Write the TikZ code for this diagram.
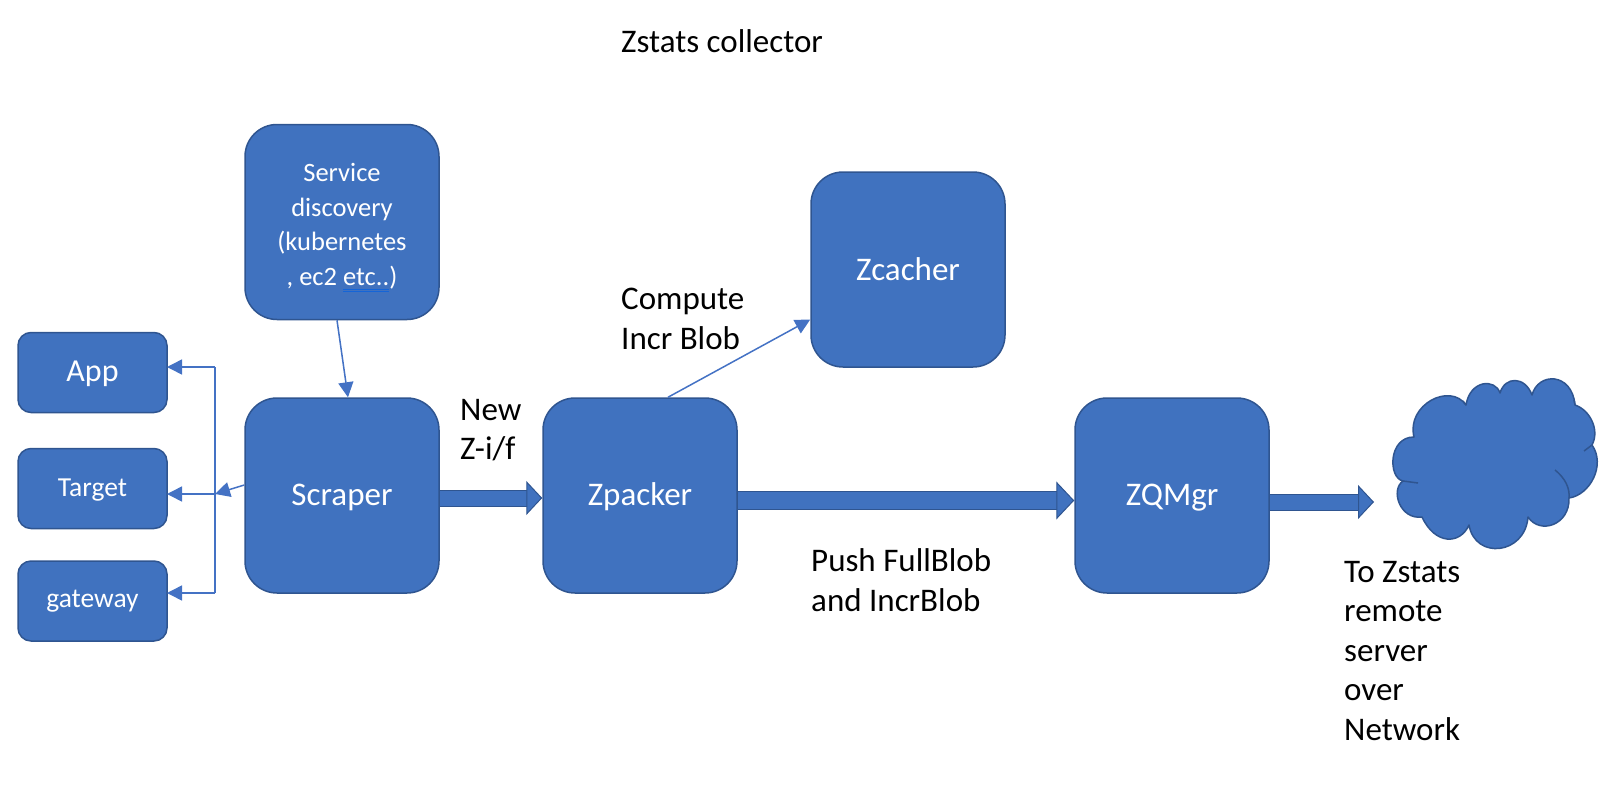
\documentclass[tikz,border=0pt]{standalone}
\usepackage{fontspec}
\setmainfont{Carlito}
\usetikzlibrary{arrows.meta}
\definecolor{boxfill}{HTML}{4072BF}
\definecolor{boxline}{HTML}{2F5590}
\definecolor{wireblue}{HTML}{4472C4}
\definecolor{spellblue}{HTML}{1565D8}
\tikzstyle{bigbox}=[draw=boxline,fill=boxfill,line width=1.5pt,rounded corners=32pt,minimum width=194pt,minimum height=195pt,inner sep=0pt,text=white,align=center,font=\fontsize{33}{38}\selectfont]
\tikzstyle{smallbox}=[draw=boxline,fill=boxfill,line width=1.5pt,rounded corners=13pt,minimum width=149pt,minimum height=80pt,inner sep=0pt,text=white,font=\fontsize{27.5}{32}\selectfont]
\tikzstyle{caption}=[anchor=west,inner sep=0pt,align=left,text=black,font=\fontsize{33}{39.5}\selectfont]
\tikzstyle{wire}=[draw=wireblue,line width=1.5pt]
\tikzstyle{wirearrow}=[wire,-{Triangle[length=15pt,width=15pt]}]
\tikzstyle{blockarrow}=[draw=boxfill,line width=15pt,-{Triangle[length=16pt,width=34pt,fill=boxfill,color=boxline,line width=1pt]},preaction={draw=boxline,line width=17pt,-,shorten >=15pt}]
\tikzstyle{cloudshape}=[draw=boxline,fill=boxfill,line width=1.5pt,line join=round]
\newcommand{\spellmark}[1]{{\setbox0=\hbox{#1}\rlap{\textcolor{spellblue}{\rule[-4.5pt]{\wd0}{1.2pt}}}\rlap{\textcolor{spellblue}{\rule[-7pt]{\wd0}{1.2pt}}}\box0}}

\begin{document}
\begin{tikzpicture}[x=1pt,y=1pt]
	\useasboundingbox (0,0) rectangle (1606,-798);

	\node [caption] (title) at (621,-41) {Zstats collector};

	% boxes
	\node [bigbox,font=\fontsize{26.5}{34.5}\selectfont] (discovery) at (342,-222) {\rule{0pt}{30pt}Service\\discovery\\(kubernetes\\, ec2 \spellmark{etc..})};
	\node [bigbox,text depth=9pt,text height=28pt] (scraper) at (342,-495.5) {Scraper};
	\node [bigbox,text depth=9pt,text height=28pt] (zpacker) at (640,-495.5) {Zpacker};
	\node [bigbox] (zcacher) at (908,-269.5) {Zcacher};
	\node [bigbox,text depth=9pt,text height=28pt] (zqmgr) at (1172,-495.5) {ZQMgr};
	\node [smallbox,font=\fontsize{32}{36}\selectfont,text height=24pt,text depth=6pt] (app) at (92.5,-372.5) {App};
	\node [smallbox,text height=21.5pt,text depth=5.5pt] (target) at (92.5,-488.5) {Target};
	\node [smallbox,text height=17.5pt,text depth=5.5pt] (gateway) at (92.5,-601) {gateway};

	% cloud
	\draw [cloudshape] (1414,-437)
		.. controls (1406,-405) and (1450,-382) .. (1466,-405)
		.. controls (1470,-380) and (1495,-378) .. (1500,-393)
		.. controls (1505,-376) and (1525,-376) .. (1532,-395)
		.. controls (1538,-372) and (1572,-372) .. (1575,-405)
		.. controls (1590,-410) and (1600,-430) .. (1592,-445)
		.. controls (1606,-465) and (1590,-495) .. (1569,-498)
		.. controls (1570,-525) and (1540,-535) .. (1528,-517)
		.. controls (1525,-555) and (1475,-560) .. (1469,-525)
		.. controls (1460,-545) and (1435,-545) .. (1422,-517)
		.. controls (1400,-520) and (1390,-490) .. (1403,-481)
		.. controls (1388,-478) and (1388,-437) .. (1414,-437) -- cycle;
	\draw [cloudshape,fill=none] (1555,-470) .. controls (1565,-478) and (1570,-488) .. (1569,-498);
	\draw [cloudshape,fill=none] (1403,-481) -- (1418,-483);
	\draw [cloudshape,fill=none] (1592,-445) -- (1584,-451);
	\draw [cloudshape,fill=none] (1466,-405) -- (1463,-401);
	\draw [cloudshape,fill=none] (1575,-405) -- (1574,-400);

	% bus on the left
	\coordinate (bustop) at (215,-367);
	\coordinate (busmid) at (215,-494);
	\coordinate (busend) at (215,-593);
	\coordinate (appin) at (167,-367);
	\coordinate (targetin) at (167,-494);
	\coordinate (gatewayin) at (167,-593);
	\draw [wire] (bustop) -- (busend);
	\draw [wirearrow] (bustop) -- (appin);
	\draw [wirearrow] (busmid) -- (targetin);
	\draw [wirearrow] (busend) -- (gatewayin);
	\draw [wirearrow] ([yshift=10.5pt]scraper.west) -- (busmid);

	% thin arrows
	\draw [wirearrow] ([xshift=-5pt]discovery.south) -- ([xshift=6pt]scraper.north);
	\draw [wirearrow] ([xshift=28pt]zpacker.north) -- ([yshift=-50pt]zcacher.west);

	% block arrows
	\coordinate (outend) at (1374,-502);
	\draw [blockarrow] ([yshift=-2.5pt]scraper.east) -- ([yshift=-2.5pt]zpacker.west);
	\draw [blockarrow,line width=17pt,-{Triangle[length=18pt,width=38pt,fill=boxfill,color=boxline,line width=1pt]},preaction={draw=boxline,line width=19pt,-,shorten >=17pt}] ([yshift=-5pt]zpacker.east) -- ([yshift=-5pt]zqmgr.west);
	\draw [blockarrow] ([yshift=-6.5pt]zqmgr.east) -- (outend);

	% labels
	\node [caption] (newzif) at (460,-430) {New\\Z-i/f};
	\node [caption] (compute) at (621,-319) {Compute\\Incr Blob};
	\node [caption] (push) at (811,-580) {Push FullBlob\\and IncrBlob};
	\node [caption] (remote) at (1344,-651) {To Zstats\\remote\\server\\over\\Network};
\end{tikzpicture}
\end{document}
